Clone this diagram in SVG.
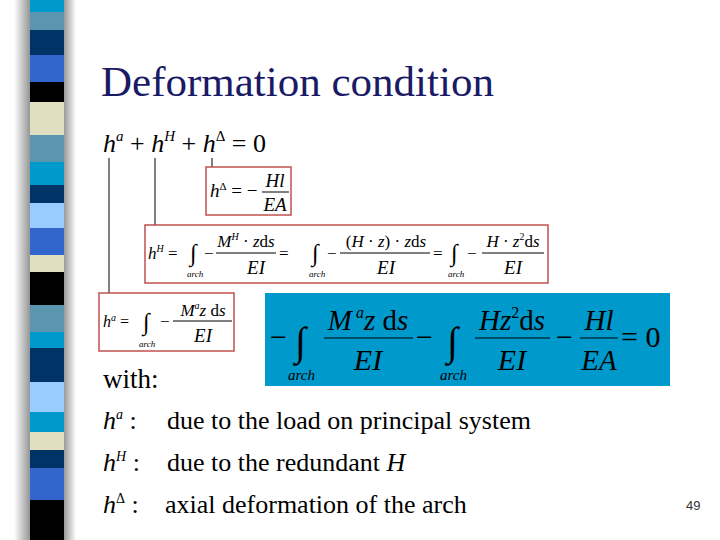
<svg xmlns="http://www.w3.org/2000/svg" width="720" height="540" viewBox="0 0 720 540">
<style>
.m{font-family:"Liberation Serif",serif;font-style:italic;fill:#000}
.r{font-family:"Liberation Serif",serif;fill:#000}
.box{fill:#fff;stroke:#c0504d;stroke-width:1.5}
.bar{stroke:#000;stroke-width:1}
.ln{stroke:#000;stroke-width:1;fill:none}
</style>
<defs><linearGradient id="sh" x1="0" x2="1"><stop offset="0" stop-color="#fff"/><stop offset="1" stop-color="#888"/></linearGradient>
<linearGradient id="sh2" x1="0" x2="1"><stop offset="0" stop-color="#999"/><stop offset="1" stop-color="#fff"/></linearGradient></defs>
<rect width="720" height="540" fill="#fff"/>
<g id="stripe">
<rect x="14" y="0" width="18" height="540" fill="url(#sh)"/>
<rect x="64" y="0" width="12" height="540" fill="url(#sh2)"/>
<rect x="30" y="0" width="34" height="12" fill="#0099cc"/>
<rect x="30" y="12" width="34" height="18" fill="#5a96b0"/>
<rect x="30" y="30" width="34" height="25" fill="#003366"/>
<rect x="30" y="55" width="34" height="27" fill="#3366cc"/>
<rect x="30" y="82" width="34" height="20" fill="#000"/>
<rect x="30" y="102" width="34" height="33" fill="#e0e0c0"/>
<rect x="30" y="135" width="34" height="27" fill="#5a96b0"/>
<rect x="30" y="162" width="34" height="23" fill="#0099cc"/>
<rect x="30" y="185" width="34" height="18" fill="#003366"/>
<rect x="30" y="203" width="34" height="25" fill="#99ccff"/>
<rect x="30" y="228" width="34" height="27" fill="#3366cc"/>
<rect x="30" y="255" width="34" height="17" fill="#e0e0c0"/>
<rect x="30" y="272" width="34" height="33" fill="#000"/>
<rect x="30" y="305" width="34" height="27" fill="#5a96b0"/>
<rect x="30" y="332" width="34" height="16" fill="#0099cc"/>
<rect x="30" y="348" width="34" height="34" fill="#003366"/>
<rect x="30" y="382" width="34" height="30" fill="#99ccff"/>
<rect x="30" y="412" width="34" height="20" fill="#0099cc"/>
<rect x="30" y="432" width="34" height="18" fill="#e0e0c0"/>
<rect x="30" y="450" width="34" height="18" fill="#003366"/>
<rect x="30" y="468" width="34" height="32" fill="#3366cc"/>
<rect x="30" y="500" width="34" height="40" fill="#000"/>
</g>
<text class="r" x="101" y="96" font-size="43" style="fill:#1a1a66">Deformation condition</text>
<g id="main">
<text class="r" x="103" y="152" font-size="26"><tspan class="m">h</tspan><tspan font-size="15" dy="-11" class="m">a</tspan><tspan dy="11"> + </tspan><tspan class="m">h</tspan><tspan font-size="15" dy="-11" class="m">H</tspan><tspan dy="11"> + </tspan><tspan class="m">h</tspan><tspan font-size="15" dy="-11">Δ</tspan><tspan dy="11"> = 0</tspan></text>
</g>
<g id="connectors">
<line class="ln" x1="109" y1="158" x2="109" y2="293"/>
<line class="ln" x1="155" y1="158" x2="155" y2="225"/>
<line class="ln" x1="212" y1="158" x2="212" y2="167"/>
</g>
<g id="hDelta">
<rect class="box" x="206" y="167" width="85" height="48"/>
<text class="r" x="210" y="197" font-size="19"><tspan class="m">h</tspan><tspan font-size="11" dy="-7">Δ</tspan><tspan dy="7"> = −</tspan></text>
<line class="bar" x1="262" y1="192" x2="289" y2="192"/>
<text class="m" x="275" y="187" font-size="19" text-anchor="middle">Hl</text>
<text class="m" x="275" y="211" font-size="19" text-anchor="middle">EA</text>
</g>
<g id="hH">
<rect class="box" x="145" y="225" width="403" height="58"/>
<text class="r" x="148" y="259" font-size="17"><tspan class="m">h</tspan><tspan class="m" font-size="10" dy="-7">H</tspan><tspan dy="7"> =</tspan></text>
<text class="r" x="190" y="261" font-size="24">∫</text><text class="m" x="187" y="277" font-size="9">arch</text>
<text class="r" x="204" y="259" font-size="17">−</text>
<line class="bar" x1="216" y1="253" x2="276" y2="253"/>
<text class="r" x="246" y="247" font-size="17" text-anchor="middle"><tspan class="m">M</tspan><tspan class="m" font-size="10" dy="-7">H</tspan><tspan dy="7"> · </tspan><tspan class="m">z</tspan>d<tspan class="m">s</tspan></text>
<text class="m" x="256" y="274" font-size="19" text-anchor="middle">EI</text>
<text class="r" x="279" y="259" font-size="17">=</text>
<text class="r" x="312" y="261" font-size="24">∫</text><text class="m" x="309" y="277" font-size="9">arch</text>
<text class="r" x="327" y="259" font-size="17">−</text>
<line class="bar" x1="340" y1="253" x2="430" y2="253"/>
<text class="r" x="386" y="247" font-size="17" text-anchor="middle">(<tspan class="m">H</tspan> · <tspan class="m">z</tspan>) · <tspan class="m">z</tspan>d<tspan class="m">s</tspan></text>
<text class="m" x="386" y="274" font-size="19" text-anchor="middle">EI</text>
<text class="r" x="433" y="259" font-size="17">=</text>
<text class="r" x="451" y="261" font-size="24">∫</text><text class="m" x="448" y="277" font-size="9">arch</text>
<text class="r" x="467" y="259" font-size="17">−</text>
<line class="bar" x1="482" y1="253" x2="544" y2="253"/>
<text class="r" x="513" y="247" font-size="17" text-anchor="middle"><tspan class="m">H</tspan> · <tspan class="m">z</tspan><tspan font-size="10" dy="-7">2</tspan><tspan dy="7">d</tspan><tspan class="m">s</tspan></text>
<text class="m" x="513" y="274" font-size="19" text-anchor="middle">EI</text>
</g>
<g id="ha">
<rect class="box" x="99" y="293" width="135" height="58"/>
<text class="r" x="103" y="327" font-size="16"><tspan class="m">h</tspan><tspan class="m" font-size="10" dy="-6">a</tspan><tspan dy="6"> =</tspan></text>
<text class="r" x="143" y="330" font-size="24">∫</text><text class="m" x="139" y="347" font-size="9">arch</text>
<text class="r" x="160" y="327" font-size="17">−</text>
<line class="bar" x1="173" y1="321" x2="232" y2="321"/>
<text class="r" x="203" y="316" font-size="17" text-anchor="middle"><tspan class="m">M</tspan><tspan class="m" font-size="10" dy="-7">a</tspan><tspan dy="7" class="m">z</tspan> d<tspan class="m">s</tspan></text>
<text class="m" x="203" y="342" font-size="19" text-anchor="middle">EI</text>
</g>
<g id="result">
<rect x="265" y="293" width="405" height="93" fill="#0099cc"/>
<text class="r" x="270" y="347" font-size="30">−</text>
<text class="r" x="295" y="355" font-size="40">∫</text><text class="m" x="288" y="380" font-size="15">arch</text>
<line class="bar" x1="324" y1="338" x2="413" y2="338"/>
<text class="r" x="368" y="330" font-size="29" text-anchor="middle"><tspan class="m">M</tspan><tspan class="m" font-size="16" dy="-12"> a</tspan><tspan dy="12" class="m">z</tspan> d<tspan class="m">s</tspan></text>
<text class="m" x="368" y="370" font-size="30" text-anchor="middle">EI</text>
<text class="r" x="416" y="347" font-size="30">−</text>
<text class="r" x="447" y="355" font-size="40">∫</text><text class="m" x="440" y="380" font-size="15">arch</text>
<line class="bar" x1="475" y1="338" x2="550" y2="338"/>
<text class="r" x="512" y="330" font-size="29" text-anchor="middle"><tspan class="m">Hz</tspan><tspan font-size="16" dy="-12">2</tspan><tspan dy="12">d</tspan><tspan class="m">s</tspan></text>
<text class="m" x="512" y="370" font-size="30" text-anchor="middle">EI</text>
<text class="r" x="556" y="347" font-size="30">−</text>
<line class="bar" x1="580" y1="338" x2="618" y2="338"/>
<text class="m" x="599" y="330" font-size="29" text-anchor="middle">Hl</text>
<text class="m" x="599" y="370" font-size="29" text-anchor="middle">EA</text>
<text class="r" x="621" y="347" font-size="30">= 0</text>
</g>
<g id="legend">
<text class="r" x="103" y="388" font-size="27">with:</text>
<text class="r" x="103" y="429" font-size="26"><tspan class="m">h</tspan><tspan class="m" font-size="14" dy="-10">a</tspan><tspan dy="10"> :</tspan></text>
<text class="r" x="167" y="429" font-size="26">due to the load on principal system</text>
<text class="r" x="103" y="471" font-size="26"><tspan class="m">h</tspan><tspan class="m" font-size="14" dy="-10">H</tspan><tspan dy="10"> :</tspan></text>
<text class="r" x="167" y="471" font-size="26">due to the redundant <tspan class="m">H</tspan></text>
<text class="r" x="103" y="513" font-size="26"><tspan class="m">h</tspan><tspan font-size="14" dy="-10">Δ</tspan><tspan dy="10"> :</tspan></text>
<text class="r" x="165" y="513" font-size="26">axial deformation of the arch</text>
</g>
<text x="686" y="510" font-family="Liberation Sans,sans-serif" font-size="13" fill="#333">49</text>
</svg>
